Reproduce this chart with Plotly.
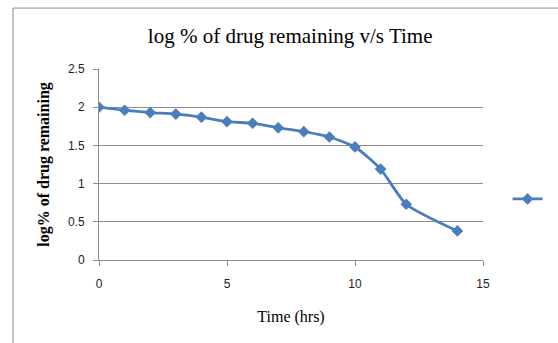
import plotly.graph_objects as go

# Time points (hrs) and log % of drug remaining
time_hrs = [0, 1, 2, 3, 4, 5, 6, 7, 8, 9, 10, 11, 12, 14]
log_remaining = [2.00, 1.96, 1.93, 1.91, 1.87, 1.81, 1.79, 1.73, 1.68, 1.61, 1.48, 1.19, 0.73, 0.38]

x_ticks = [0, 5, 10, 15]
y_ticks = [0, 0.5, 1, 1.5, 2, 2.5]
y_tick_labels = ["0", "0.5", "1", "1.5", "2", "2.5"]

BLUE = "#4A7EBB"
SERIF = "Liberation Serif, Times New Roman, serif"
SANS = "Liberation Sans, Arial, sans-serif"

fig = go.Figure()
fig.add_trace(go.Scatter(
    x=time_hrs, y=log_remaining,
    mode="lines+markers",
    name="",
    line=dict(color=BLUE, width=2.8, shape="spline", smoothing=0.6),
    marker=dict(symbol="diamond", size=9, color=BLUE),
    showlegend=True,
))

fig.update_layout(
    width=558, height=343,
    margin=dict(l=99, r=75, t=69, b=83, autoexpand=False),
    paper_bgcolor="white", plot_bgcolor="white",
    title=dict(text="log % of drug remaining v/s Time",
               font=dict(family=SERIF, size=21, color="black"),
               x=0.52, xanchor="center", y=0.895, yanchor="middle"),
    xaxis=dict(range=[0, 15], tickvals=x_ticks, showgrid=False, zeroline=False,
               showline=True, linecolor="#8c8c8c", linewidth=1,
               ticks="outside", ticklen=5, tickcolor="#8c8c8c",
               ticklabelstandoff=8,
               tickfont=dict(family=SANS, size=12, color="#222"),
               title=dict(text="Time (hrs)", font=dict(family=SERIF, size=16, color="black"),
                          standoff=20)),
    yaxis=dict(range=[0, 2.5], tickvals=y_ticks, ticktext=y_tick_labels,
               showgrid=True, gridcolor="#8c8c8c", gridwidth=1, zeroline=False,
               showline=True, linecolor="#8c8c8c", linewidth=1,
               ticks="outside", ticklen=5, tickcolor="#8c8c8c",
               ticklabelstandoff=6,
               tickfont=dict(family=SANS, size=12, color="#222"),
               title=dict(text="<b>log% of drug remaining</b>",
                          font=dict(family=SERIF, size=16, color="black"),
                          standoff=14)),
    legend=dict(x=1.064, y=0.32, xanchor="left", yanchor="middle",
                bgcolor="rgba(0,0,0,0)", font=dict(size=12)),
    shapes=[
        # chart-area frame (top and left edges)
        dict(type="line", xref="paper", yref="paper", x0=-0.224, x1=1.3, y0=1.319, y1=1.319,
             line=dict(color="#8c8c8c", width=1)),
        dict(type="line", xref="paper", yref="paper", x0=-0.224, x1=-0.224, y0=1.319, y1=-0.45,
             line=dict(color="#8c8c8c", width=1)),
    ],
)

fig.write_html("out.html")
